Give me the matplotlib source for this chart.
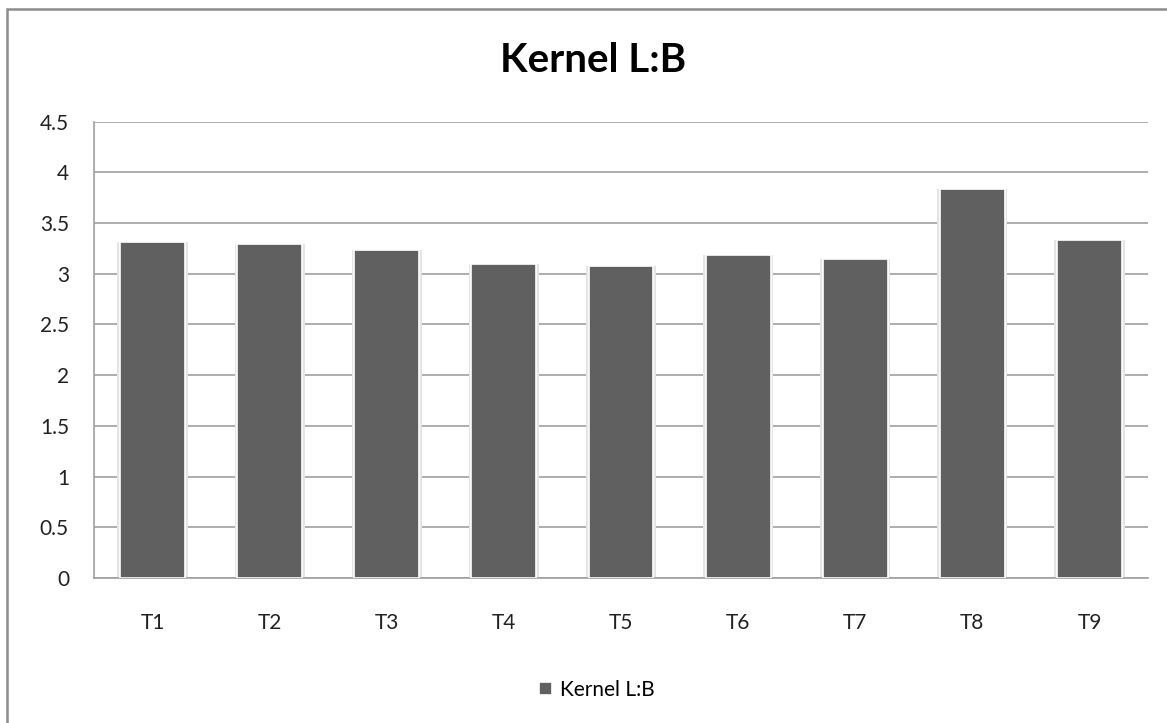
import matplotlib
matplotlib.use('Agg')
import matplotlib.pyplot as plt
from matplotlib.patches import Rectangle

plt.rcParams['font.family'] = ['Lato', 'DejaVu Sans']

# data
categories = ['T1', 'T2', 'T3', 'T4', 'T5', 'T6', 'T7', 'T8', 'T9']
values = [3.31, 3.29, 3.23, 3.10, 3.08, 3.18, 3.14, 3.83, 3.33]
series_name = 'Kernel L:B'
yticks = [0, 0.5, 1, 1.5, 2, 2.5, 3, 3.5, 4, 4.5]

bar_color = '#606060'
grid_color = '#a0a0a0'

fig = plt.figure(figsize=(11.67, 7.23), dpi=100)
ax = fig.add_axes([94/1167, 1-578/723, (1148-94)/1167, (578-121.5)/723])

x = range(len(categories))
# soft shadow behind the bars
ax.bar(x, values, width=0.6, color='#e4e4e4', zorder=2)
ax.bar(x, values, width=0.555, color=bar_color, edgecolor='white',
       linewidth=1.2, zorder=3, label=series_name)

ax.set_xlim(-0.5, len(categories) - 0.5)
ax.set_ylim(0, 4.5)
ax.set_yticks(yticks)
ax.set_yticklabels([f'{t:g}' for t in yticks])
ax.set_xticks(list(x))
ax.set_xticklabels(categories)
ax.yaxis.grid(True, color=grid_color, linewidth=1.2, zorder=1)
ax.set_axisbelow(True)

for s in ['top', 'right']:
    ax.spines[s].set_visible(False)
for s in ['left', 'bottom']:
    ax.spines[s].set_color(grid_color)
    ax.spines[s].set_linewidth(1.2)
ax.tick_params(axis='y', length=0, pad=18, labelsize=15, colors='#222222')
ax.tick_params(axis='x', length=0, pad=25, labelsize=15, colors='#222222')

fig.text(593/1167, 1-61/723, 'Kernel L:B', ha='center', va='center',
         fontsize=29, fontweight='bold', color='black')

fig.legend(loc='center', bbox_to_anchor=(597/1167, 1-690/723), frameon=False,
           fontsize=15, handlelength=0.6, handleheight=0.6, handletextpad=0.4)

# outer chart border (runs off the right and bottom edges)
fig.patches.append(Rectangle((6.5/1167, -0.01), 1.05, 1 - 9/723 + 0.01,
                             transform=fig.transFigure, fill=False,
                             edgecolor='#8c8c8c', linewidth=1.8))

fig.savefig('out.png', dpi=100)
